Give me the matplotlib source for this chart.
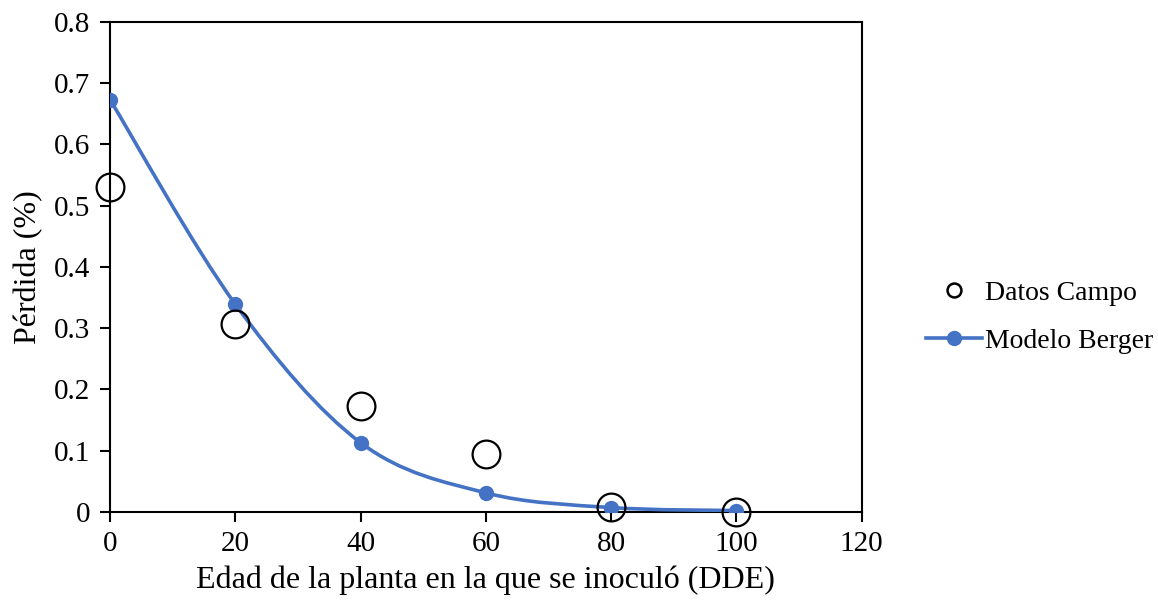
"""Perdida vs edad de inoculacion: datos de campo y modelo de Berger."""

import matplotlib
matplotlib.use('Agg')
import matplotlib.pyplot as plt
from matplotlib.lines import Line2D
from matplotlib.path import Path
from matplotlib.patches import PathPatch

# Data
edad = [0, 20, 40, 60, 80, 100]
datos_campo = [0.531, 0.306, 0.173, 0.095, 0.008, 0.0]
modelo_berger = [0.673, 0.339, 0.113, 0.031, 0.007, 0.002]

x_ticks = [0, 20, 40, 60, 80, 100, 120]
y_ticks = [0, 0.1, 0.2, 0.3, 0.4, 0.5, 0.6, 0.7, 0.8]
y_tick_labels = ['0', '0.1', '0.2', '0.3', '0.4', '0.5', '0.6', '0.7', '0.8']

BLUE = '#4472C4'


def smooth_path(xs, ys):
    """Excel-like smoothed line: cubic Bezier segments through every point."""
    pts = list(zip(xs, ys))
    verts = [pts[0]]
    codes = [Path.MOVETO]
    n = len(pts)
    for i in range(n - 1):
        p0 = pts[i - 1] if i > 0 else pts[i]
        p1 = pts[i]
        p2 = pts[i + 1]
        p3 = pts[i + 2] if i + 2 < n else pts[i + 1]
        c1 = (p1[0] + (p2[0] - p0[0]) / 6, p1[1] + (p2[1] - p0[1]) / 6)
        c2 = (p2[0] - (p3[0] - p1[0]) / 6, p2[1] - (p3[1] - p1[1]) / 6)
        verts += [c1, c2, p2]
        codes += [Path.CURVE4] * 3
    return Path(verts, codes)


plt.rcParams['font.family'] = ['Liberation Serif', 'DejaVu Serif']

fig = plt.figure(figsize=(11.58, 6.05), dpi=100)
ax = fig.add_axes([0.095, 0.154, 0.649, 0.81])

# Model curve and its points
ax.add_patch(PathPatch(smooth_path(edad, modelo_berger), facecolor='none',
                       edgecolor=BLUE, linewidth=2.6, zorder=3))
ax.plot(edad, modelo_berger, linestyle='none', marker='o', markersize=10,
        color=BLUE, zorder=4)

# Field data as open circles
ax.plot(edad, datos_campo, linestyle='none', marker='o', markersize=20,
        markerfacecolor='none', markeredgecolor='black', markeredgewidth=1.6,
        zorder=5, clip_on=False)

ax.set_xlim(0, 120)
ax.set_ylim(0, 0.8)
ax.set_xticks(x_ticks)
ax.set_yticks(y_ticks)
ax.set_yticklabels(y_tick_labels)
ax.tick_params(direction='out', length=7, width=1.5, labelsize=21, pad=7)

for spine in ax.spines.values():
    spine.set_linewidth(1.5)

ax.set_xlabel('Edad de la planta en la que se inoculó (DDE)', fontsize=23,
              labelpad=6)
ax.set_ylabel('Pérdida (%)', fontsize=23, labelpad=8)

handles = [
    Line2D([], [], linestyle='none', marker='o', markersize=10,
           markerfacecolor='none', markeredgecolor='black',
           markeredgewidth=1.8),
    Line2D([], [], color=BLUE, linewidth=2.6, marker='o', markersize=10),
]
fig.legend(handles, ['Datos Campo', 'Modelo Berger'], loc='center left',
           bbox_to_anchor=(0.800, 0.476), frameon=False, fontsize=20,
           handlelength=2.0, handletextpad=0.1, labelspacing=0.8,
           borderaxespad=0, borderpad=0)

fig.savefig('out.png', dpi=100)
